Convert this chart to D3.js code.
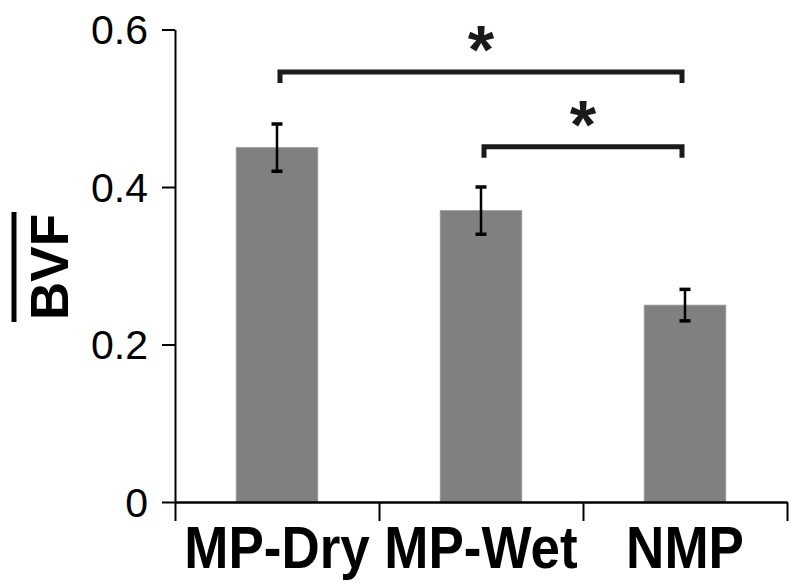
<!DOCTYPE html>
<html><head><meta charset="utf-8">
<script src="https://cdn.jsdelivr.net/npm/d3@7"></script>
<style>body{margin:0;background:#fff}svg{display:block}</style>
</head><body>
<svg id="c" width="800" height="586"></svg>
<script>
const categories = ["MP-Dry", "MP-Wet", "NMP"];
const values = [0.45, 0.37, 0.25];
const errLow = [0.42, 0.34, 0.23];
const errHigh = [0.48, 0.40, 0.27];
const yTicks = [0, 0.2, 0.4, 0.6];
const yTickLabels = ["0", "0.2", "0.4", "0.6"];
const brackets = [[0, 2, 0.546], [1, 2, 0.451]];
const bracketLabels = ["*", "*"];

const svg = d3.select("#c");
const font = "'Liberation Sans', Arial, sans-serif";
const y = d3.scaleLinear().domain([0, 0.6]).range([502, 29.5]);
const x = d3.scaleBand().domain(categories).range([175, 787]).paddingInner(0.6).paddingOuter(0.3);
const xb = d3.scaleLinear().domain([0, categories.length]).range([175, 787]);
const cx = c => x(c) + x.bandwidth() / 2;

// bars
svg.append("g").selectAll("rect").data(categories).join("rect")
  .attr("x", d => x(d)).attr("width", x.bandwidth())
  .attr("y", (d, i) => y(values[i])).attr("height", (d, i) => y(0) - y(values[i]))
  .attr("fill", "#808080").attr("stroke", "#999").attr("stroke-width", 0.8);

// y axis
const ya = svg.append("g").attr("transform", "translate(175,0)")
  .call(d3.axisLeft(y).tickValues(yTicks).tickFormat((d, i) => yTickLabels[i]).tickSize(13).tickPadding(14).tickSizeOuter(0));
ya.select(".domain").attr("stroke", "#000").attr("stroke-width", 2);
ya.selectAll(".tick line").attr("stroke", "#000").attr("stroke-width", 2);
ya.selectAll(".tick text").attr("font-family", font).attr("font-size", 41).attr("fill", "#000").attr("dy", "0.35em");

// x axis
const xa = svg.append("g").attr("transform", "translate(0,502)")
  .call(d3.axisBottom(xb).tickValues(d3.range(categories.length + 1)).tickFormat("").tickSize(19).tickSizeOuter(0));
xa.select(".domain").attr("stroke", "#000").attr("stroke-width", 2.7);
xa.selectAll(".tick line").attr("stroke", "#000").attr("stroke-width", 2);

// category labels
svg.append("g").selectAll("text").data(categories).join("text")
  .attr("transform", d => `translate(${cx(d)},568) scale(1,1.1)`)
  .attr("text-anchor", "middle").attr("font-family", font).attr("font-weight", "bold")
  .attr("font-size", 53).attr("fill", "#000").text(d => d);

// error bars
const eg = svg.append("g").attr("stroke", "#000");
categories.forEach((c, i) => {
  const xc = cx(c);
  eg.append("line").attr("x1", xc).attr("x2", xc).attr("y1", y(errHigh[i])).attr("y2", y(errLow[i])).attr("stroke-width", 2.5);
  [errHigh[i], errLow[i]].forEach(v => eg.append("line").attr("x1", xc - 5.5).attr("x2", xc + 5.5).attr("y1", y(v)).attr("y2", y(v)).attr("stroke-width", 3.5));
});

// significance brackets
brackets.forEach((b, k) => {
  const x1 = cx(categories[b[0]]) + 3, x2 = cx(categories[b[1]]) - 3;
  const yh = y(b[2]);
  svg.append("path").attr("d", `M${x1},${yh + 11}L${x1},${yh}L${x2},${yh}L${x2},${yh + 11}`)
    .attr("fill", "none").attr("stroke", "#1a1a1a").attr("stroke-width", 5).attr("stroke-linejoin", "miter");
  svg.append("text").attr("x", (x1 + x2) / 2).attr("y", yh - 41)
    .attr("dy", "0.62em").attr("text-anchor", "middle")
    .attr("font-family", font).attr("font-weight", "bold").attr("font-size", 68).attr("fill", "#1a1a1a")
    .text(bracketLabels[k]);
});

// y label with overline
const yl = svg.append("g").attr("transform", "translate(68,267) rotate(-90)");
yl.append("text").attr("text-anchor", "middle").attr("font-family", font).attr("font-weight", "bold")
  .attr("font-size", 53).attr("fill", "#000").text("BVF");
yl.append("line").attr("x1", -55).attr("x2", 55).attr("y1", -54).attr("y2", -54).attr("stroke", "#000").attr("stroke-width", 5);
</script>
</body></html>
